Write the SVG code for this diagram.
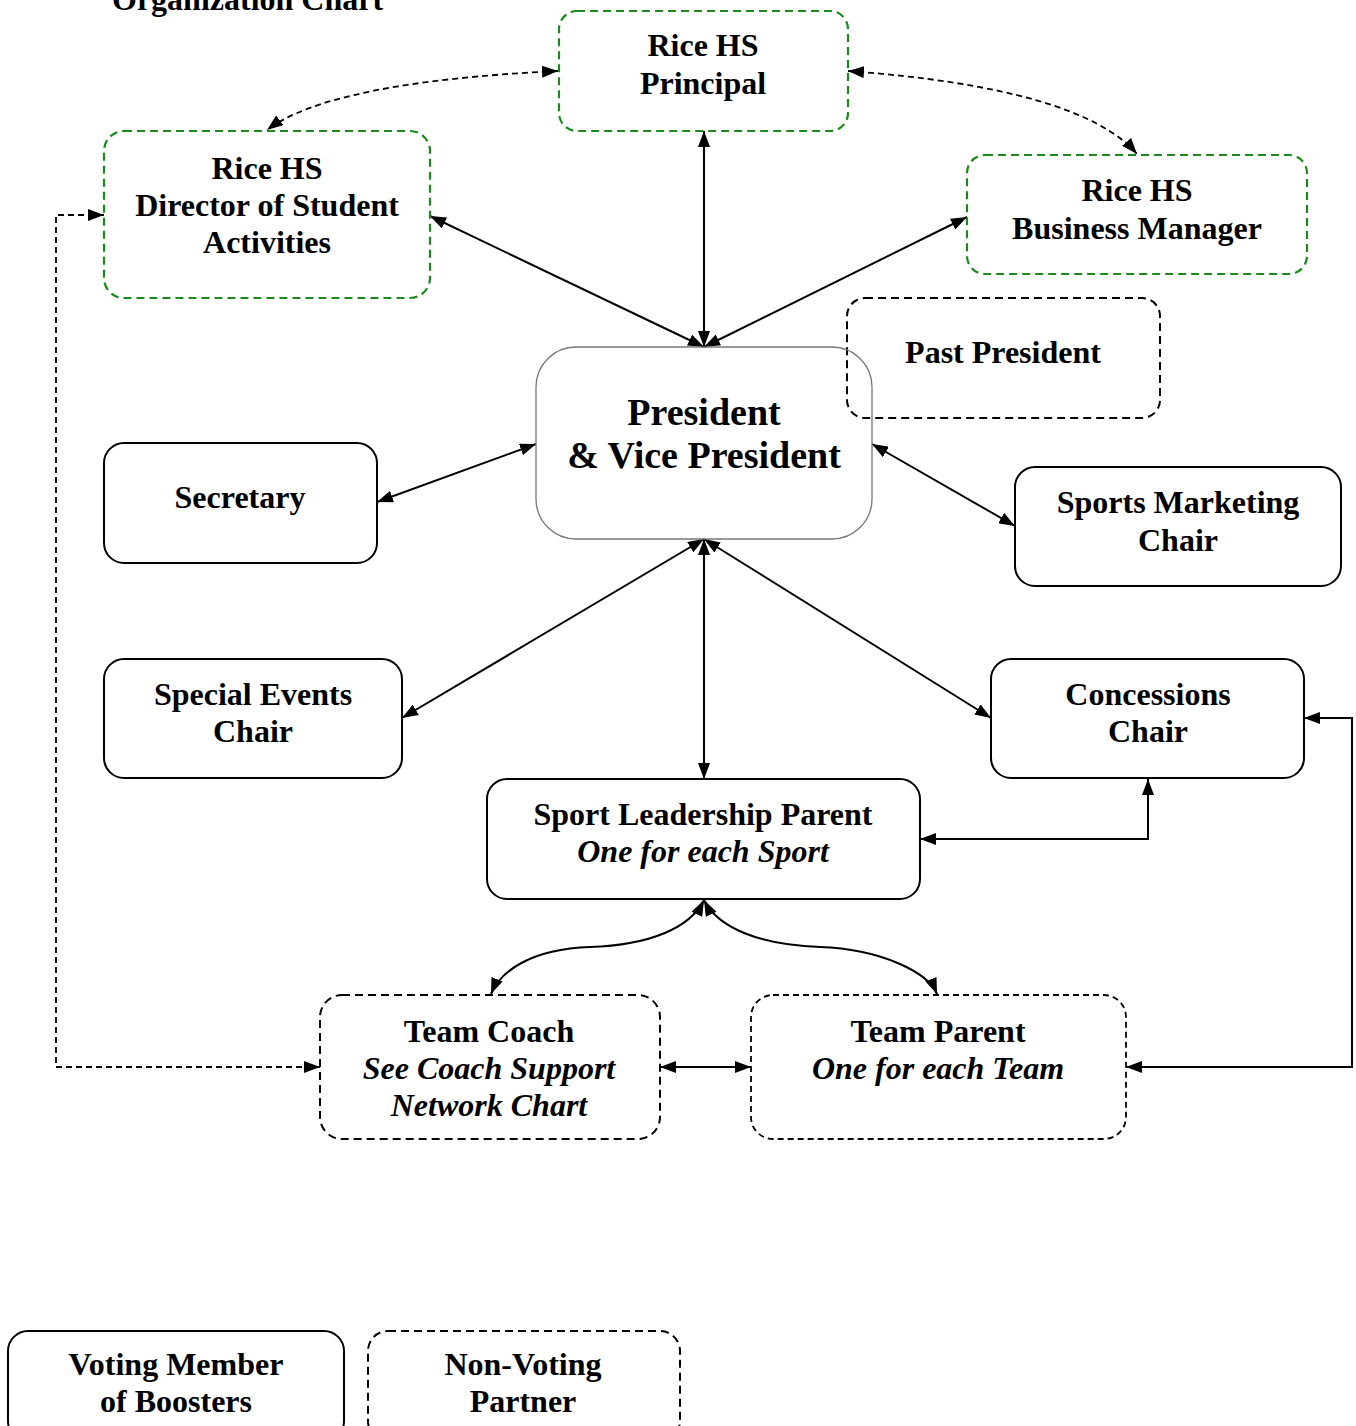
<svg xmlns="http://www.w3.org/2000/svg" width="1356" height="1426" viewBox="0 0 1356 1426">
<style>
text{font-family:"Liberation Serif","Times New Roman",serif;font-weight:bold;font-size:32px;fill:#000;text-anchor:middle}
.it{font-style:italic}
.green{fill:#fff;stroke:#1a8a1a;stroke-width:2.2;stroke-dasharray:8 5}
.solid{fill:#fff;stroke:#000;stroke-width:2}
.dash{fill:#fff;stroke:#000;stroke-width:2;stroke-dasharray:8 5}
.dash2{fill:#fff;stroke:#000;stroke-width:1.8;stroke-dasharray:6 4}
.pres{fill:none;stroke:#777;stroke-width:1.3}
.ln{fill:none;stroke:#000;stroke-width:2}
.dl{fill:none;stroke:#000;stroke-width:1.8;stroke-dasharray:6 4}
</style>
<defs>
<marker id="ah" viewBox="0 0 16 12" refX="16" refY="6" markerWidth="16" markerHeight="12" markerUnits="userSpaceOnUse" orient="auto-start-reverse">
<path d="M0,0 L16,6 L0,12 z" fill="#000"/>
</marker>
</defs>
<text x="112" y="10" style="text-anchor:start">Organization Chart</text>
<g id="connectors">
<path class="dl" d="M558,71 Q330,82 267,130" marker-start="url(#ah)" marker-end="url(#ah)"/>
<path class="dl" d="M848,71 Q1080,88 1137,154" marker-start="url(#ah)" marker-end="url(#ah)"/>
<path class="ln" d="M704,131 L704,347" marker-start="url(#ah)" marker-end="url(#ah)"/>
<path class="ln" d="M430,216 L704,347" marker-start="url(#ah)" marker-end="url(#ah)"/>
<path class="ln" d="M967,217 L704,347" marker-start="url(#ah)" marker-end="url(#ah)"/>
<path class="ln" d="M377,502 L536,444" marker-start="url(#ah)" marker-end="url(#ah)"/>
<path class="ln" d="M872,444 L1015,526" marker-start="url(#ah)" marker-end="url(#ah)"/>
<path class="ln" d="M402,718 L704,539" marker-start="url(#ah)" marker-end="url(#ah)"/>
<path class="ln" d="M991,718 L704,539" marker-start="url(#ah)" marker-end="url(#ah)"/>
<path class="ln" d="M704,539 L704,779" marker-start="url(#ah)" marker-end="url(#ah)"/>
<path class="ln" d="M1148,779 L1148,839 L920,839" marker-start="url(#ah)" marker-end="url(#ah)"/>
<path class="ln" d="M704,900 C690,928 650,945 590,947 C530,949 500,972 491,994" marker-start="url(#ah)" marker-end="url(#ah)"/>
<path class="ln" d="M704,900 C718,928 760,945 820,947 C880,949 928,972 937,994" marker-start="url(#ah)" marker-end="url(#ah)"/>
<path class="ln" d="M660,1067 L751,1067" marker-start="url(#ah)" marker-end="url(#ah)"/>
<path class="dl" d="M104,215 L56,215 L56,1067 L320,1067" marker-start="url(#ah)" marker-end="url(#ah)"/>
<path class="ln" d="M1304,718 L1352,718 L1352,1067 L1126,1067" marker-start="url(#ah)" marker-end="url(#ah)"/>
</g>
<g id="principal"><rect class="green" x="559" y="11" width="289" height="120" rx="18"/><text x="703" y="56">Rice HS</text><text x="703" y="94">Principal</text></g>
<g id="director"><rect class="green" x="104" y="131" width="326" height="167" rx="20"/><text x="267" y="179">Rice HS</text><text x="267" y="216">Director of Student</text><text x="267" y="253">Activities</text></g>
<g id="business"><rect class="green" x="967" y="155" width="340" height="119" rx="18"/><text x="1137" y="201">Rice HS</text><text x="1137" y="239">Business Manager</text></g>
<g id="past"><rect class="dash" style="fill:none" x="847" y="298" width="313" height="120" rx="18"/><text x="1003" y="363">Past President</text></g>
<g id="president"><rect class="pres" x="536" y="347" width="336" height="192" rx="40"/><text x="704" y="425" style="font-size:38px">President</text><text x="704" y="468" style="font-size:38px">&amp; Vice President</text></g>
<g id="secretary"><rect class="solid" x="104" y="443" width="273" height="120" rx="20"/><text x="240" y="508">Secretary</text></g>
<g id="sportsmarketing"><rect class="solid" x="1015" y="467" width="326" height="119" rx="20"/><text x="1178" y="513">Sports Marketing</text><text x="1178" y="551">Chair</text></g>
<g id="specialevents"><rect class="solid" x="104" y="659" width="298" height="119" rx="20"/><text x="253" y="705">Special Events</text><text x="253" y="742">Chair</text></g>
<g id="concessions"><rect class="solid" x="991" y="659" width="313" height="119" rx="20"/><text x="1148" y="705">Concessions</text><text x="1148" y="742">Chair</text></g>
<g id="sportleadership"><rect class="solid" x="487" y="779" width="433" height="120" rx="20"/><text x="703" y="825">Sport Leadership Parent</text><text class="it" x="703" y="862">One for each Sport</text></g>
<g id="teamcoach"><rect class="dash" x="320" y="995" width="340" height="144" rx="22"/><text x="489" y="1042">Team Coach</text><text class="it" x="489" y="1079">See Coach Support</text><text class="it" x="489" y="1116">Network Chart</text></g>
<g id="teamparent"><rect class="dash2" x="751" y="995" width="375" height="144" rx="22"/><text x="938" y="1042">Team Parent</text><text class="it" x="938" y="1079">One for each Team</text></g>
<g id="voting"><rect class="solid" x="8" y="1331" width="336" height="110" rx="20"/><text x="176" y="1375">Voting Member</text><text x="176" y="1412">of Boosters</text></g>
<g id="nonvoting"><rect class="dash" x="368" y="1331" width="312" height="110" rx="20"/><text x="523" y="1375">Non-Voting</text><text x="523" y="1412">Partner</text></g>
</svg>
